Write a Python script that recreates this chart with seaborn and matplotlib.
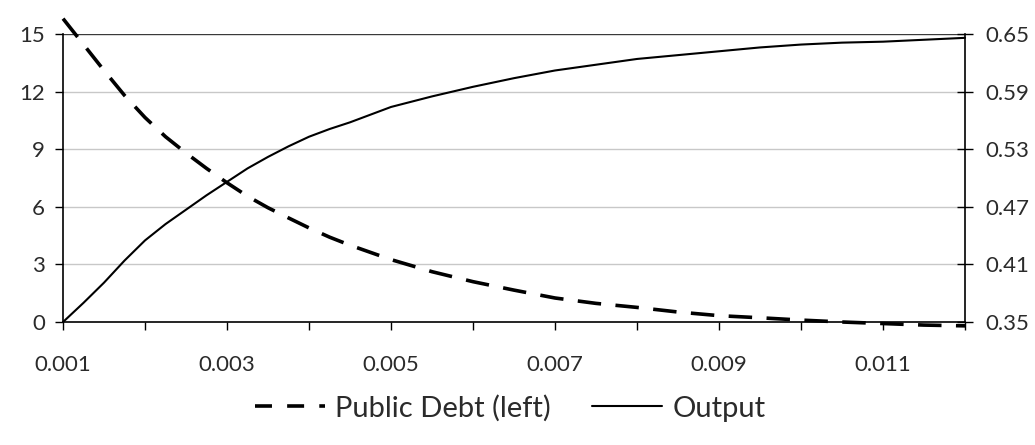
import numpy as np
import pandas as pd
import seaborn as sns
import matplotlib.pyplot as plt
from matplotlib.lines import Line2D

# values
tau = [0.001, 0.00125, 0.0015, 0.00175, 0.002, 0.00225, 0.0025, 0.00275,
       0.003, 0.00325, 0.0035, 0.00375, 0.004, 0.00425, 0.0045, 0.005,
       0.0055, 0.006, 0.0065, 0.007, 0.0075, 0.008, 0.0085, 0.009, 0.0095,
       0.010, 0.0105, 0.011, 0.0115, 0.012]
public_debt = [15.8, 14.45, 13.1, 11.8, 10.65, 9.65, 8.8, 8.0,
               7.25, 6.55, 5.95, 5.42, 4.9, 4.42, 4.0, 3.25,
               2.62, 2.1, 1.66, 1.25, 0.97, 0.76, 0.52, 0.33, 0.22,
               0.1, 0.0, -0.08, -0.16, -0.2]
output = [0.35, 0.370, 0.391, 0.414, 0.435, 0.452, 0.467, 0.482,
          0.496, 0.510, 0.522, 0.533, 0.543, 0.551, 0.558, 0.574,
          0.585, 0.595, 0.604, 0.612, 0.618, 0.624, 0.628, 0.632, 0.636,
          0.639, 0.641, 0.642, 0.644, 0.646]

left_ticks = [0, 3, 6, 9, 12, 15]
right_ticks = [0.35, 0.41, 0.47, 0.53, 0.59, 0.65]
x_ticks = [0.001, 0.002, 0.003, 0.004, 0.005, 0.006, 0.007, 0.008, 0.009,
           0.010, 0.011, 0.012]
x_labels = ['0.001', '', '0.003', '', '0.005', '', '0.007', '', '0.009',
            '', '0.011', '']

df = pd.DataFrame({'tau': tau, 'debt': public_debt, 'output': output})

sns.set_style('white')
plt.rcParams['font.family'] = ['Lato', 'DejaVu Sans']

txt = '#2b2b2b'
fig = plt.figure(figsize=(10.35, 4.45), dpi=100)
ax = fig.add_axes([0.0609, 0.2764, 0.8715, 0.6472])
ax2 = ax.twinx()

sns.lineplot(data=df, x='tau', y='debt', ax=ax, color='black', lw=2.6,
             clip_on=False, zorder=5)
ax.lines[0].set_dashes([6.5, 4.0])
sns.lineplot(data=df, x='tau', y='output', ax=ax2, color='black', lw=1.5,
             clip_on=False, zorder=5)

ax.set_xlim(0.001, 0.012)
ax.set_ylim(0, 15)
ax2.set_ylim(0.35, 0.65)
ax.set_xticks(x_ticks)
ax.set_xticklabels(x_labels)
ax.set_yticks(left_ticks)
ax.set_yticklabels([str(t) for t in left_ticks])
ax2.set_yticks(right_ticks)
ax2.set_yticklabels([f'{t:.2f}' for t in right_ticks])

for t in left_ticks[1:-1]:
    ax.axhline(t, color='#c8c8c8', lw=1.0, zorder=0)
ax.axhline(15, color='#3a3a3a', lw=1.0, zorder=0)

ax.set_xlabel('')
ax.set_ylabel('')
ax2.set_ylabel('')

for a in (ax, ax2):
    for s in a.spines.values():
        s.set_visible(False)
ax.spines['left'].set_visible(True)
ax.spines['bottom'].set_visible(True)
ax2.spines['right'].set_visible(True)
for s in (ax.spines['left'], ax.spines['bottom'], ax2.spines['right']):
    s.set_color('black')
    s.set_linewidth(1.2)

ax.tick_params(axis='x', direction='out', length=6, width=1, color='black',
               labelsize=16, labelcolor=txt, pad=18, bottom=True)
ax.tick_params(axis='y', direction='out', length=6, width=1, color='black',
               labelsize=16, labelcolor=txt, pad=7, left=True)
ax2.tick_params(axis='y', direction='inout', length=11.5, width=1,
                color='black', labelsize=16, labelcolor=txt, pad=9,
                right=True)

handles = [Line2D([], [], color='black', lw=2.6, dashes=[4.7, 4.2]),
           Line2D([], [], color='black', lw=1.5)]
fig.legend(handles, ['Public Debt (left)', 'Output'], loc='center',
           bbox_to_anchor=(0.493, 0.083), ncol=2, frameon=False, fontsize=21,
           handlelength=2.4, columnspacing=1.4, handletextpad=0.35,
           labelcolor=txt)

fig.savefig('out.png', dpi=100)
